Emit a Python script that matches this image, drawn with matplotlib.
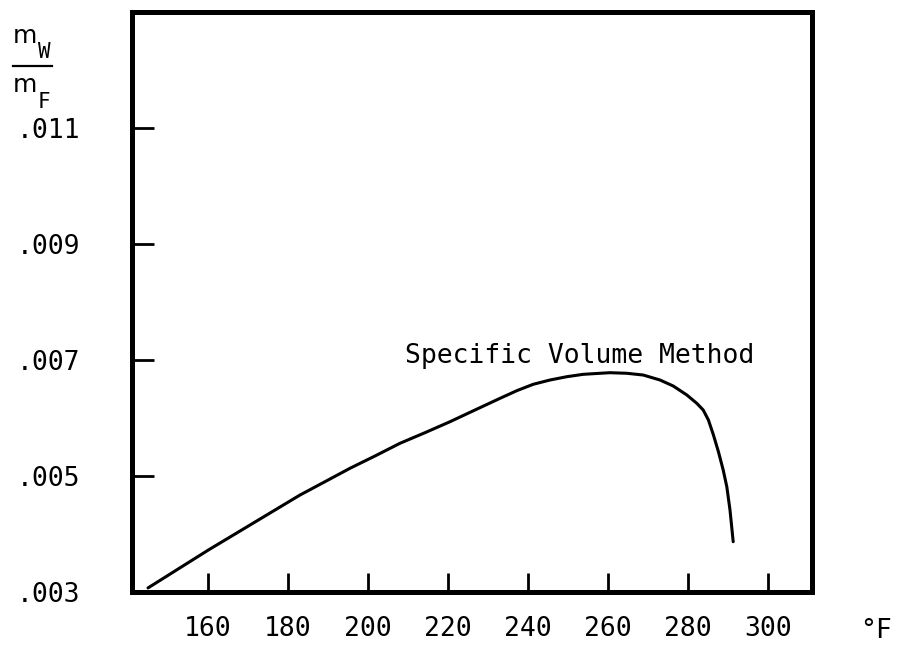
import matplotlib.pyplot as plt

# temperature (deg F) vs water/fuel mass ratio
temps = [145, 160, 183, 189.25, 195.5, 201.75, 208, 214.25, 220.5, 226.75,
         233, 237.2, 241.3, 245.5, 249.7, 253.8, 258, 260.5, 264.7, 268.8,
         273, 276.3, 279.7, 282.2, 283.8, 285.1, 286.3, 287.6, 288.8,
         289.7, 290.5, 291.3]
ratio = [0.00307, 0.00372, 0.004672, 0.004902, 0.005133, 0.005345, 0.005564,
         0.005747, 0.005936, 0.006138, 0.006339, 0.006471, 0.006581, 0.006655,
         0.006712, 0.006753, 0.006771, 0.006781, 0.006771, 0.006741, 0.006655,
         0.006552, 0.006397, 0.006253, 0.006138, 0.005966, 0.00572, 0.00542,
         0.005103, 0.004816, 0.004414, 0.003867]

x_ticks = [160, 180, 200, 220, 240, 260, 280, 300]
y_ticks = [0.003, 0.005, 0.007, 0.009, 0.011]
y_labels = [".003", ".005", ".007", ".009", ".011"]
curve_label = "Specific Volume Method"

FONT = "DejaVu Sans Mono"
FS = 19

fig = plt.figure(figsize=(8.98, 6.46), dpi=100)
ax = fig.add_axes([132 / 898, 1 - 592 / 646, 680 / 898, 580 / 646])

ax.plot(temps, ratio, color="black", linewidth=2.2,
        solid_capstyle="round", solid_joinstyle="round")
ax.text(209.25, 0.00695, curve_label, fontsize=FS, family=FONT, va="baseline")

ax.set_xlim(141, 311)
ax.set_ylim(0.003, 0.013)

for s in ax.spines.values():
    s.set_linewidth(3.6)
    s.set_color("black")

ax.set_xticks(x_ticks)
ax.set_xticklabels([str(t) for t in x_ticks], family=FONT, fontsize=FS)
ax.set_yticks(y_ticks)
ax.set_yticklabels(y_labels, family=FONT, fontsize=FS)
ax.tick_params(axis="x", direction="in", length=14, width=2, pad=17)
ax.tick_params(axis="y", direction="in", length=16, width=2, pad=37)
# the bottom tick sits on the frame anyway
ax.yaxis.get_major_ticks()[0].tick1line.set_visible(False)

# y axis label drawn as a stacked fraction m_W / m_F
def fx(px):
    return px / 898

def fy(py):
    return 1 - py / 646

fig.text(fx(13), fy(43), "m", fontsize=18, family="DejaVu Sans", va="baseline")
fig.text(fx(38), fy(58), "W", fontsize=15, family=FONT, va="baseline")
fig.add_artist(plt.Line2D([fx(13), fx(52)], [fy(66), fy(66)], color="black", linewidth=1.6))
fig.text(fx(13), fy(92), "m", fontsize=18, family="DejaVu Sans", va="baseline")
fig.text(fx(38), fy(108), "F", fontsize=15, family=FONT, va="baseline")

fig.text(fx(860), fy(638), "°F", fontsize=FS, family=FONT, va="baseline")

fig.savefig("out.png", dpi=100)
